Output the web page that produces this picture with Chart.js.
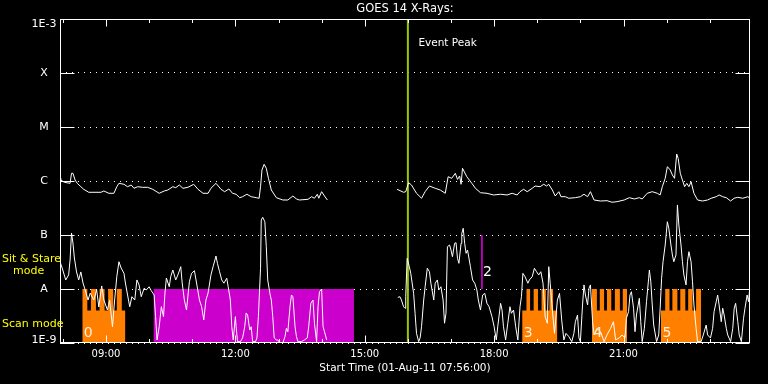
<!DOCTYPE html>
<html><head><meta charset="utf-8">
<script src="https://cdn.jsdelivr.net/npm/chart.js@4/dist/chart.umd.min.js"></script>
<style>html,body{margin:0;padding:0;background:#000;}canvas{display:block;}</style>
</head><body>
<canvas id="c" width="768" height="384"></canvas>
<script>
// time axis: minutes after start time 01-Aug-11 07:56:00
const xTickMinutes = [64, 244, 424, 604, 784];
const xTickLabels = ['09:00', '12:00', '15:00', '18:00', '21:00'];
const yTickValues = [1e-9, 1e-8, 1e-7, 1e-6, 1e-5, 1e-4, 1e-3];
const yTickLabels = ['1E-9', 'A', 'B', 'C', 'M', 'X', '1E-3'];

// GOES 14 short channel (0.5-4 A), W/m^2 ; null = data gap
const shortTime = [
 0,3,8,12,14,16,18,20,23,26, 29,32,35,39,42,47,51,54,58,61,
 66,69,73,76,79,82,85,89,91,94, 97,100,104,107,110,113,117,120,124,127,
 131,133,135,138,141,144,146,148,152,154, 157,161,164,168,170,173,176,180,183,187,
 190,194,197,200,203,206,210,213,217,219, 222,225,228,232,234,237,239,241,244,245,
 247,251,254,257,259,261,264,266,268,272, 274,276,279,280,282,285,287,289,292,294,
 296,298,301,303,306,310,313,315,317,320, 322,324,327,329,331,336,340,344,346,349,
 352,354,357,359,361,364,366,368,371, 420,
 470,473,475,478,480,481,483,486,488,492, 494,496,499,501,503,506,508,511,514,516,
 520,522,525,527,530,533,535,537,539,542, 544,546,549,551,553,555,558,559,561,563,
 565,567,571,574,577,580,582,585,588,591, 594,597,601,604,607,609,613,615,617,620,
 623,626,628,631,634,637,640,642,644,647, 651,653,657,660,663,666,669,672,675,678,
 680,682,685,688,692,695,698,701,704,708, 712,715,717,720,722,724,727,729,731,734,
 736,738,741,743,747,752,757,761,766,770, 773,778,782,786,788,791,793,795,798,800,
 802,806,808,810,813,816,819,820,822,824, 826,830,833,835,837,839,842,845,847,850,
 852,854,857,859,861,864,866,868,871,873, 875,878,880,882,885,887,892,895,899,901,
 905,908,910,913,915,917,920,922,924,927, 929,933,936,938,940,943,945,948,951,953,
 956,958,960];
const shortFlux = [
 3.2e-8,2.45e-8,1.47e-8,1.82e-8,3.44e-8,1.09e-7,7.1e-8,3.75e-8,2.07e-8,1.47e-8,
 2.07e-8,1.29e-8,9.6e-9,6.25e-9,8.4e-9,6.25e-9,9.6e-9,4.64e-9,1.14e-8,6.25e-9,
 4.08e-9,6.25e-9,2.0e-9,6.25e-9,1.69e-8,3.2e-8,2.45e-8,1.95e-8,1.29e-8,7.74e-9,
 4.7e-9,7.2e-9,6.25e-9,1.47e-8,1.19e-8,7.2e-9,1.03e-8,9.6e-9,1.1e-8,9.3e-9,
 7.74e-9,3.07e-9,1.14e-9,2.0e-9,4.7e-9,3.07e-9,8.4e-9,1.6e-8,1.1e-8,1.69e-8,
 2.25e-8,1.47e-8,1.82e-8,2.59e-8,1.29e-8,6.25e-9,4.08e-9,1.36e-8,1.95e-8,2.18e-8,
 1.29e-8,6.25e-9,4.7e-9,2.67e-9,6.25e-9,8.4e-9,1.82e-8,2.59e-8,4.08e-8,2.99e-8,
 2.09e-8,1.47e-8,1.28e-8,1.58e-8,1.1e-8,6.25e-9,2.0e-9,1.14e-9,3.07e-9,2.0e-9,
 1.06e-9,1.06e-9,1.24e-9,2.0e-9,3.6e-9,3.3e-9,1.74e-9,2.0e-9,1.06e-9,1.06e-9,
 1.24e-9,3.07e-9,2.42e-8,1.9e-7,2.13e-7,1.76e-7,6.07e-8,1.47e-8,8.3e-9,6.25e-9,
 3.07e-9,1.24e-9,1.14e-9,1.14e-9,1.0e-9,1.0e-9,1.31e-9,1.87e-9,1.62e-9,4.7e-9,
 7.74e-9,7.2e-9,2.0e-9,1.31e-9,1.06e-9,1.06e-9,1.14e-9,1.24e-9,2.0e-9,5.43e-9,
 6.25e-9,2.32e-9,1.06e-9,4.7e-9,8.9e-9,1.0e-8,2.0e-9,1.62e-9,1.14e-9, null,
 7.0e-9,7.2e-9,6.25e-9,4.7e-9,4.4e-9,7.2e-9,3.7e-8,2.59e-8,1.95e-8,8.3e-9,
 3.55e-9,1.51e-9,1.06e-9,1.24e-9,2.0e-9,6.25e-9,1.1e-8,2.42e-8,2.09e-8,1.28e-8,
 6.25e-9,1.28e-8,1.47e-8,9.6e-9,1.1e-8,6.25e-9,2.32e-9,3.55e-9,6.07e-8,6.53e-8,
 5.27e-8,3.96e-8,7.02e-8,7.2e-8,3.7e-8,2.99e-8,7.02e-8,1.07e-7,1.33e-7,7.02e-8,
 4.58e-8,5.27e-8,2.59e-8,1.47e-8,1.28e-8,9.6e-9,6.25e-9,4.08e-9,7.74e-9,8.3e-9,
 5.43e-9,4.7e-9,3.07e-9,2.0e-9,1.14e-9,2.0e-9,5.43e-9,4.08e-9,2.0e-9,1.14e-9,
 2.32e-9,4.7e-9,3.55e-9,4.08e-9,2.0e-9,1.14e-9,4.7e-9,7.2e-9,1.95e-8,1.69e-8,
 1.28e-8,1.47e-8,1.69e-8,2.42e-8,2.09e-8,1.82e-8,2.09e-8,1.28e-8,3.07e-9,2.32e-9,
 2.59e-8,1.28e-8,4.08e-9,1.51e-9,6.25e-9,8.3e-9,2.67e-9,1.14e-9,1.51e-9,1.31e-9,
 1.06e-9,1.51e-9,2.48e-9,3.3e-9,1.24e-9,1.06e-9,5.06e-9,1.19e-8,7.74e-9,5.06e-9,
 1.03e-8,1.19e-8,2.48e-9,1.41e-9,1.87e-9,1.62e-9,1.06e-9,1.41e-9,1.87e-9,2.48e-9,
 1.14e-9,1.24e-9,1.41e-9,1.24e-9,2.87e-9,3.8e-9,7.74e-9,8.9e-9,4.4e-9,1.62e-9,
 3.3e-9,6.73e-9,2.48e-9,1.06e-9,1.87e-9,5.82e-9,1.58e-8,2.25e-8,1.36e-8,5.06e-9,
 2.15e-9,1.06e-9,1.41e-9,4.4e-9,1.58e-8,3.2e-8,6.53e-8,1.76e-7,1.33e-7,6.53e-8,
 4.27e-8,3.2e-8,4.27e-8,3.6e-7,1.53e-7,6.53e-8,3.2e-8,1.82e-8,1.19e-8,3.2e-8,
 4.91e-8,3.2e-8,1.36e-8,5.06e-9,1.87e-9,1.06e-9,1.06e-9,1.41e-9,2.15e-9,1.41e-9,
 1.24e-9,1.87e-9,3.8e-9,5.82e-9,7.74e-9,5.06e-9,2.48e-9,4.4e-9,3.3e-9,1.87e-9,
 1.41e-9,1.06e-9,1.87e-9,4.4e-9,5.43e-9,2.48e-9,1.41e-9,1.06e-9,2.87e-9,4.4e-9,
 7.74e-9,5.82e-9,1.19e-8];

// GOES 14 long channel (1-8 A), W/m^2
const longTime = [
 0,1,6,14,16,18,21,24,29,33, 40,57,61,68,75,79,82,89,94,99,
 103,108,115,122,129,138,145,150,157,161, 166,171,178,186,192,199,206,210,217,224,
 229,235,240,245,250,254,260,266,273,277, 279,281,284,287,290,294,301,310,317,324,
 329,333,345,350,354,358,360,364,368,372, 420,
 469,478,481,485,489,496,503,508,514,522, 529,536,540,545,550,553,556,558,560,566,
 573,578,585,594,603,613,622,629,636,640, 645,650,657,661,668,673,677,680,685,689,
 694,697,703,708,717,724,729,734,738,743, 752,761,768,775,785,792,799,806,810,817,
 824,831,835,838,842,845,849,852,855,858, 860,863,866,869,872,875,878,882,887,894,
 901,906,913,917,922,927,933,938,943,950, 957,960];
const longFlux = [
 1.12e-6,1.04e-6,9.46e-7,9.06e-7,1.39e-6,1.39e-6,1.04e-6,9.06e-7,7.84e-7,7.02e-7,
 6.18e-7,6.18e-7,6.53e-7,5.92e-7,5.92e-7,7.84e-7,9.06e-7,8.69e-7,7.84e-7,8.43e-7,
 7.33e-7,7.84e-7,7.64e-7,7.64e-7,7.02e-7,5.92e-7,6.53e-7,6.81e-7,7.84e-7,7.52e-7,
 8.43e-7,7.33e-7,7.64e-7,8.69e-7,7.02e-7,5.92e-7,5.92e-7,7.33e-7,9.06e-7,7.02e-7,
 6.34e-7,7.11e-7,5.92e-7,5.68e-7,4.91e-7,5.12e-7,5.68e-7,5.12e-7,4.91e-7,4.79e-7,
 7.84e-7,1.6e-6,2.04e-6,1.72e-6,1.12e-6,6.81e-7,4.91e-7,4.45e-7,4.45e-7,5.27e-7,
 4.65e-7,4.45e-7,4.58e-7,5.12e-7,4.79e-7,5.68e-7,4.79e-7,6.34e-7,5.27e-7,4.45e-7, null,
 7.02e-7,6.18e-7,6.34e-7,9.3e-7,8.43e-7,5.92e-7,4.79e-7,6.34e-7,8.07e-7,7.33e-7,
 6.81e-7,5.92e-7,1.2e-6,1.12e-6,1.39e-6,1.07e-6,1.24e-6,8.69e-7,1.72e-6,1.2e-6,
 9.06e-7,7.33e-7,6.07e-7,5.92e-7,5.51e-7,5.68e-7,5.51e-7,5.92e-7,5.51e-7,6.34e-7,
 7.02e-7,6.34e-7,7.33e-7,8.07e-7,7.84e-7,8.69e-7,8.07e-7,8.69e-7,6.81e-7,5.27e-7,
 6.34e-7,5.12e-7,5.12e-7,4.79e-7,4.91e-7,5.12e-7,5.68e-7,5.12e-7,6.34e-7,4.45e-7,
 4.26e-7,4.32e-7,4.04e-7,4.14e-7,4.45e-7,4.91e-7,4.65e-7,4.91e-7,4.65e-7,5.92e-7,
 6.34e-7,5.92e-7,5.51e-7,7.84e-7,1.12e-6,1.84e-6,1.6e-6,1.29e-6,1.12e-6,3.16e-6,
 2.63e-6,1.39e-6,1.04e-6,7.84e-7,9.06e-7,7.84e-7,9.7e-7,5.92e-7,4.45e-7,4.26e-7,
 4.45e-7,4.79e-7,5.12e-7,5.51e-7,5.12e-7,4.91e-7,4.26e-7,4.79e-7,4.99e-7,4.79e-7,
 5.12e-7,4.79e-7];

// observing modes (step edges in minutes, level held until next edge)
const scanLabels = ['0', '3', '4', '5'];
const scanTimes = [
 [31,38,43,50,55,62,67,74,79,86,91],
 [643,649,654,659,665,670,676,681,686,692],
 [740,747,751,757,761,767,772,779,783,789],
 [836,842,848,852,859,863,870,874,880,885,892]
];
const scanLevels = [
 [1e-8,4e-9,1e-8,4e-9,1e-8,4e-9,1e-8,4e-9,1e-8,4e-9,4e-9],
 [4e-9,1e-8,4e-9,1e-8,4e-9,1e-8,4e-9,1e-8,4e-9,4e-9],
 [1e-8,4e-9,1e-8,4e-9,1e-8,4e-9,1e-8,4e-9,1e-8,1e-8],
 [4e-9,1e-8,4e-9,1e-8,4e-9,1e-8,4e-9,1e-8,4e-9,1e-8,1e-8]
];
const sitStareTimes = [130, 409];
const sitStareLevel = [1e-8, 1e-8];
const marker2Time = 587;
const marker2Flux = [1e-7, 1e-8];
const eventPeakTime = 484;

const FONT = '"DejaVu Sans", sans-serif';
const pts = (ts, fs) => ts.map((t, i) => ({x: t, y: fs[i]}));

const datasets = [
  {data: pts(shortTime, shortFlux), borderColor: '#ffffff', borderWidth: 1, order: 1},
  {data: pts(longTime, longFlux), borderColor: '#ffffff', borderWidth: 1, order: 1},
  {data: [{x: marker2Time, y: marker2Flux[0]}, {x: marker2Time, y: marker2Flux[1]}], borderColor: '#cc00cc', borderWidth: 1, order: 0},
  {data: [{x: eventPeakTime, y: 1e-9}, {x: eventPeakTime, y: 1e-3}], borderColor: '#99c800', borderWidth: 2, order: 2},
  {data: pts(sitStareTimes, sitStareLevel), borderWidth: 0, borderColor: 'rgba(0,0,0,0)', backgroundColor: '#cc00cc', fill: 'start', order: 3}
];
scanTimes.forEach((ts, i) => datasets.push({
  data: pts(ts, scanLevels[i]), stepped: true, borderWidth: 0, borderColor: 'rgba(0,0,0,0)',
  backgroundColor: '#ff8000', fill: 'start', order: 3
}));
datasets.forEach(d => { d.pointRadius = 0; d.spanGaps = false; d.tension = 0; });

const decor = {
  id: 'decor',
  beforeDraw(chart) {
    const {ctx, width, height} = chart;
    ctx.save(); ctx.fillStyle = '#000'; ctx.fillRect(0, 0, width, height); ctx.restore();
  },
  afterDatasetsDraw(chart) {
    const {ctx, chartArea: a, scales: {x, y}} = chart;
    ctx.save();
    ctx.strokeStyle = '#fff'; ctx.lineWidth = 1;
    const L = Math.round(a.left) + 0.5, R = Math.round(a.right) - 0.5;
    const T = Math.round(a.top) + 0.5, B = Math.round(a.bottom) - 0.5;
    ctx.strokeRect(L, T, R - L, B - T);
    ctx.beginPath();
    for (let h = 8; h <= 23; h++) {
      const px = Math.round(x.getPixelForValue(h * 60 - 476)) + 0.5;
      const len = (h % 3 === 0) ? 7 : 3.5;
      ctx.moveTo(px, T); ctx.lineTo(px, T + len);
      ctx.moveTo(px, B); ctx.lineTo(px, B - len);
    }
    yTickValues.forEach(v => {
      const py = Math.round(y.getPixelForValue(v)) + 0.5;
      ctx.moveTo(L, py); ctx.lineTo(L + 14, py);
      ctx.moveTo(R, py); ctx.lineTo(R - 14, py);
    });
    ctx.stroke();

    // end labels of the flux axis (sit inside the axis span like the original)
    ctx.fillStyle = '#fff';
    ctx.font = '11px ' + FONT;
    ctx.textAlign = 'center'; ctx.textBaseline = 'alphabetic';
    ctx.fillText(yTickLabels[yTickLabels.length - 1], 44, y.getPixelForValue(yTickValues[yTickValues.length - 1]) + 8);
    ctx.fillText(yTickLabels[0], 44, y.getPixelForValue(yTickValues[0]));

    ctx.textBaseline = 'middle'; ctx.textAlign = 'left';
    ctx.font = '10.5px ' + FONT;
    ctx.fillText('Event Peak', x.getPixelForValue(eventPeakTime) + 10.5, y.getPixelForValue(3.6e-4));
    ctx.font = '14px ' + FONT;
    ctx.fillText('2', x.getPixelForValue(marker2Time) + 1, y.getPixelForValue(2.07e-8));
    ctx.fillStyle = '#ffeedd';
    scanTimes.forEach((ts, i) => ctx.fillText(scanLabels[i], x.getPixelForValue(ts[0]) + 1.5, y.getPixelForValue(1.5e-9)));
    ctx.fillStyle = '#ffff00';
    ctx.font = '11px ' + FONT;
    ctx.fillText('Sit & Stare', 2, 259);
    ctx.fillText('mode', 13, 271.5);
    ctx.fillText('Scan mode', 2, 324);
    ctx.restore();
  }
};

new Chart(document.getElementById('c'), {
  type: 'line',
  data: {datasets},
  plugins: [decor],
  options: {
    responsive: false, animation: false, devicePixelRatio: 1,
    layout: {padding: {left: 0, right: 18, top: 0, bottom: 0}},
    plugins: {
      legend: {display: false}, tooltip: {enabled: false},
      title: {display: true, text: 'GOES 14 X-Rays:', color: '#fff', fullSize: false,
        font: {family: FONT, size: 11.5, weight: 'normal'}, padding: {top: 2.5, bottom: 2.7}}
    },
    scales: {
      x: {
        type: 'linear', min: 0, max: 960,
        grid: {display: false, drawTicks: false}, border: {display: false},
        afterBuildTicks: s => { s.ticks = xTickMinutes.map(v => ({value: v})); },
        afterFit: s => { s.height = 41; },
        ticks: {color: '#fff', font: {family: FONT, size: 10}, padding: 5, autoSkip: false, maxRotation: 0,
          callback: (v, i) => xTickLabels[i]},
        title: {display: true, text: 'Start Time (01-Aug-11 07:56:00)', color: '#fff',
          font: {family: FONT, size: 10.5}, padding: {top: 0, bottom: 9.5}}
      },
      y: {
        type: 'logarithmic', min: 1e-9, max: 1e-3,
        grid: {color: '#fff', lineWidth: 1, drawTicks: false},
        border: {display: false, dash: [1, 5]},
        afterBuildTicks: s => { s.ticks = yTickValues.map(v => ({value: v})); },
        afterFit: s => { s.width = 60; },
        ticks: {color: '#fff', font: {family: FONT, size: 11}, padding: 11.2, crossAlign: 'center', autoSkip: false,
          callback: (v, i) => (i === 0 || i === yTickLabels.length - 1) ? '' : yTickLabels[i]}
      }
    }
  }
});
</script>
</body></html>
